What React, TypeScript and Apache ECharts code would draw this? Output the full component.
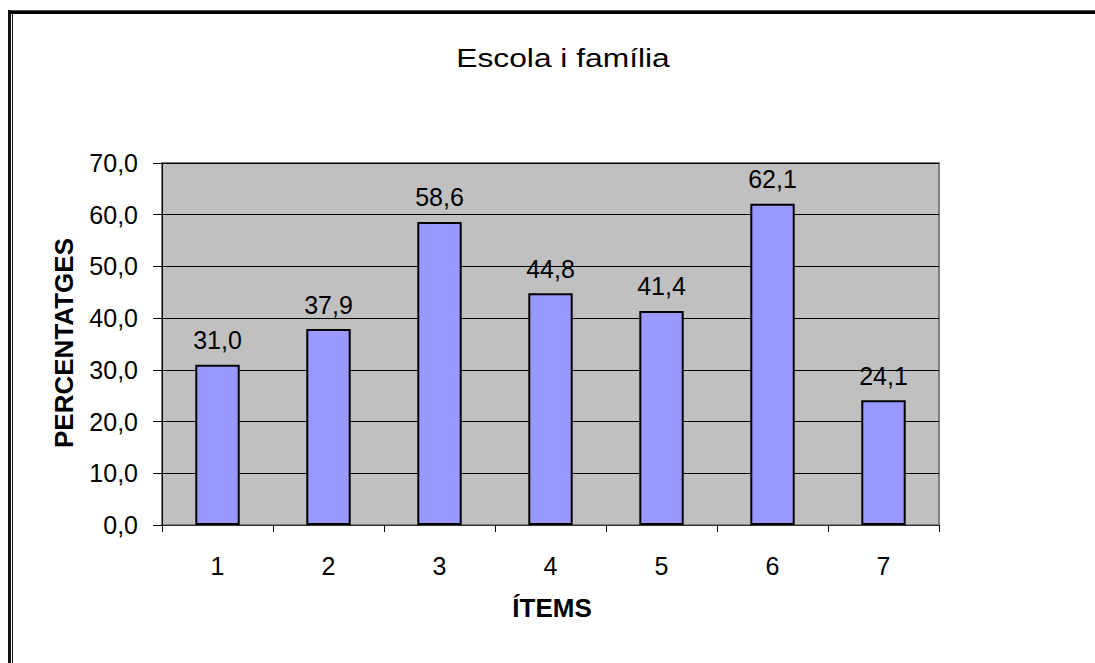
import React, { useEffect, useRef } from "react";
import * as echarts from "echarts";

const items = ["1", "2", "3", "4", "5", "6", "7"];
const percentages = [31.0, 37.9, 58.6, 44.8, 41.4, 62.1, 24.1];
const titleText = "Escola i família";
const yAxisName = "PERCENTATGES";
const xAxisName = "ÍTEMS";

const fmt = (v: number) => v.toFixed(1).replace(".", ",");

export default function App() {
  const ref = useRef<HTMLDivElement>(null);

  useEffect(() => {
    if (!ref.current) return;
    const chart = echarts.init(ref.current, null, { renderer: "svg" });
    const font = "'Liberation Sans', Arial, sans-serif";

    chart.setOption({
      animation: false,
      backgroundColor: "#ffffff",
      textStyle: { fontFamily: font },
      grid: {
        left: 162,
        top: 163,
        right: 156,
        bottom: 138,
        show: true,
        backgroundColor: "#c0c0c0",
        borderColor: "#808080",
        borderWidth: 2,
      },
      xAxis: {
        type: "category",
        data: items,
        axisLine: { show: true, lineStyle: { color: "#303030", width: 1 } },
        axisTick: { show: true, length: 7, alignWithLabel: false, lineStyle: { color: "#000" } },
        axisLabel: { color: "#000", fontSize: 25, margin: 28, fontFamily: font },
        splitLine: { show: false },
      },
      yAxis: {
        type: "value",
        min: 0,
        max: 70,
        interval: 10,
        axisLine: { show: true, lineStyle: { color: "#000", width: 1 } },
        axisTick: { show: true, length: 9, lineStyle: { color: "#000" } },
        axisLabel: { color: "#000", fontSize: 25, margin: 24, fontFamily: font, formatter: (v: number) => fmt(v) },
        splitLine: { show: true, lineStyle: { color: "#000", width: 1 } },
      },
      series: [
        {
          type: "bar",
          data: percentages,
          barWidth: "40%",
          itemStyle: { color: "#9999ff", borderColor: "#000", borderWidth: 2 },
          label: {
            show: true,
            position: "top",
            distance: 12,
            color: "#000",
            fontSize: 25,
            fontFamily: font,
            formatter: (p: any) => fmt(p.value),
          },
        },
      ],
      graphic: [
        // page frame
        { type: "rect", shape: { x: 8, y: 10, width: 1087, height: 1 }, style: { fill: "#555" }, silent: true },
        { type: "rect", shape: { x: 8, y: 11, width: 1087, height: 3 }, style: { fill: "#000" }, silent: true },
        { type: "rect", shape: { x: 8, y: 10, width: 3, height: 653 }, style: { fill: "#111" }, silent: true },
        { type: "rect", shape: { x: 12, y: 14, width: 1, height: 649 }, style: { fill: "#111" }, silent: true },
        {
          type: "text",
          x: 563,
          y: 58,
          scaleX: 1.27,
          style: {
            text: titleText,
            fill: "#000",
            font: `25px ${font}`,
            textAlign: "center",
            textVerticalAlign: "middle",
          },
        },
        {
          type: "text",
          x: 64,
          y: 343,
          rotation: Math.PI / 2,
          style: {
            text: yAxisName,
            fill: "#000",
            font: `bold 26px ${font}`,
            textAlign: "center",
            textVerticalAlign: "middle",
          },
        },
        {
          type: "text",
          x: 552,
          y: 608,
          style: {
            text: xAxisName,
            fill: "#000",
            font: `bold 26px ${font}`,
            textAlign: "center",
            textVerticalAlign: "middle",
          },
        },
      ],
    });

    return () => chart.dispose();
  }, []);

  return (
    <div
      ref={ref}
      style={{ position: "absolute", left: 0, top: 0, width: 1095, height: 663 }}
    />
  );
}
